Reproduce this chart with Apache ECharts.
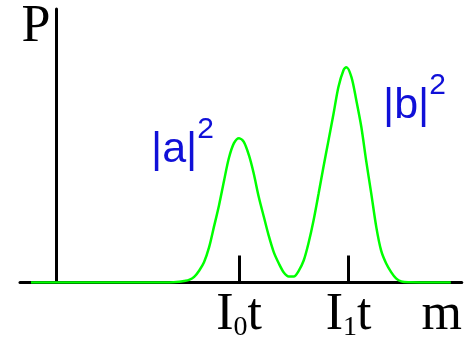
<!DOCTYPE html>
<html>
<head>
<meta charset="utf-8">
<script src="https://cdn.jsdelivr.net/npm/echarts@6/dist/echarts.min.js"></script>
<style>
  html, body { margin: 0; padding: 0; background: #fff; }
  #chart { width: 465px; height: 344px; }
</style>
</head>
<body>
<div id="chart"></div>
<script>
// Probability distribution P(m): two peaks centred at I0 t and I1 t
const mValues = [
  -0.70, 3.09, 3.36, 3.50, 3.63, 3.77, 3.91, 4.04, 4.18, 4.31, 4.45, 4.59,
  4.72, 4.86, 5.00, 5.13, 5.27, 5.40, 5.54, 5.68, 5.81, 5.95, 6.09, 6.22,
  6.36, 6.50, 6.63, 6.77, 6.90, 7.04, 7.18, 7.31, 7.45, 7.59, 7.72, 7.86,
  7.94, 8.08, 8.21, 8.35, 8.48, 8.62, 8.76, 8.89, 9.03, 9.17, 9.30, 9.44,
  9.63, 10.80
];
const pValues = [
  0, 0, 0.003, 0.007, 0.012, 0.026, 0.056, 0.094, 0.164, 0.257, 0.358, 0.474,
  0.577, 0.647, 0.670, 0.653, 0.591, 0.507, 0.397, 0.304, 0.219, 0.141, 0.088, 0.048,
  0.028, 0.028, 0.053, 0.102, 0.181, 0.288, 0.414, 0.535, 0.660, 0.786, 0.907, 0.986,
  1.000, 0.953, 0.847, 0.721, 0.567, 0.414, 0.256, 0.149, 0.088, 0.047, 0.019, 0.005,
  0.001, 0
];

// Tick positions on the m axis and their subscripts (I0 t, I1 t)
const tickValues = [5, 8];
const tickSubs = ['0', '1'];

const xName = 'm';
const yName = 'P';

const chart = echarts.init(document.getElementById('chart'), null, { renderer: 'canvas' });

const serif = '"Liberation Serif", "Times New Roman", serif';
const sans = '"Liberation Sans", Arial, sans-serif';
const blue = '#1010d8';

// amplitude labels |a|^2 and |b|^2 with a raised exponent
function ampLabel(letter, left, top) {
  return {
    type: 'text', left: left, top: top, z: 10,
    style: {
      text: '{m||' + letter + '|}{s|2}',
      fill: blue,
      rich: {
        m: { fontFamily: sans, fontSize: 43, lineHeight: 57, fill: blue, verticalAlign: 'bottom', padding: [14, 0, 0, 0] },
        s: { fontFamily: sans, fontSize: 30, lineHeight: 30, fill: blue, verticalAlign: 'top' }
      }
    }
  };
}

chart.setOption({
  animation: false,
  backgroundColor: '#ffffff',
  grid: { left: 20, right: 1, top: 9, bottom: 61.5 },
  xAxis: {
    type: 'value',
    min: -1,
    max: 11.1,
    name: xName,
    nameLocation: 'end',
    nameGap: -20,
    nameTextStyle: {
      fontFamily: serif, fontSize: 52, color: '#000',
      align: 'center', verticalAlign: 'top', padding: [7, 0, 0, 0]
    },
    axisLine: { show: true, lineStyle: { color: '#000', width: 3 } },
    axisTick: {
      show: true, inside: true, length: 27,
      customValues: tickValues,
      lineStyle: { color: '#000', width: 3 }
    },
    axisLabel: {
      show: true,
      margin: 7,
      customValues: tickValues,
      formatter: function (v) {
        const i = tickValues.indexOf(v);
        return '{i|I}{s|' + tickSubs[i] + '}{i|t}';
      },
      rich: {
        i: { fontFamily: serif, fontSize: 52, lineHeight: 52, color: '#000', verticalAlign: 'bottom' },
        s: { fontFamily: serif, fontSize: 28, lineHeight: 20, color: '#000', verticalAlign: 'bottom' }
      }
    },
    splitLine: { show: false }
  },
  yAxis: {
    type: 'value',
    min: 0,
    max: 1.27,
    name: yName,
    nameLocation: 'end',
    nameGap: 8,
    nameTextStyle: {
      fontFamily: serif, fontSize: 52, color: '#000',
      align: 'right', verticalAlign: 'top', padding: [0, 6, 0, 0]
    },
    axisLine: { show: true, onZero: true, lineStyle: { color: '#000', width: 3 } },
    axisTick: { show: false },
    axisLabel: { show: false },
    splitLine: { show: false }
  },
  series: [{
    type: 'line',
    data: mValues.map((m, k) => [m, pValues[k]]),
    smooth: 0.3,
    showSymbol: false,
    lineStyle: { color: '#00ff00', width: 2.5 },
    z: 5
  }],
  graphic: [
    ampLabel('a', 151, 115),
    ampLabel('b', 383, 71)
  ]
});
</script>
</body>
</html>
